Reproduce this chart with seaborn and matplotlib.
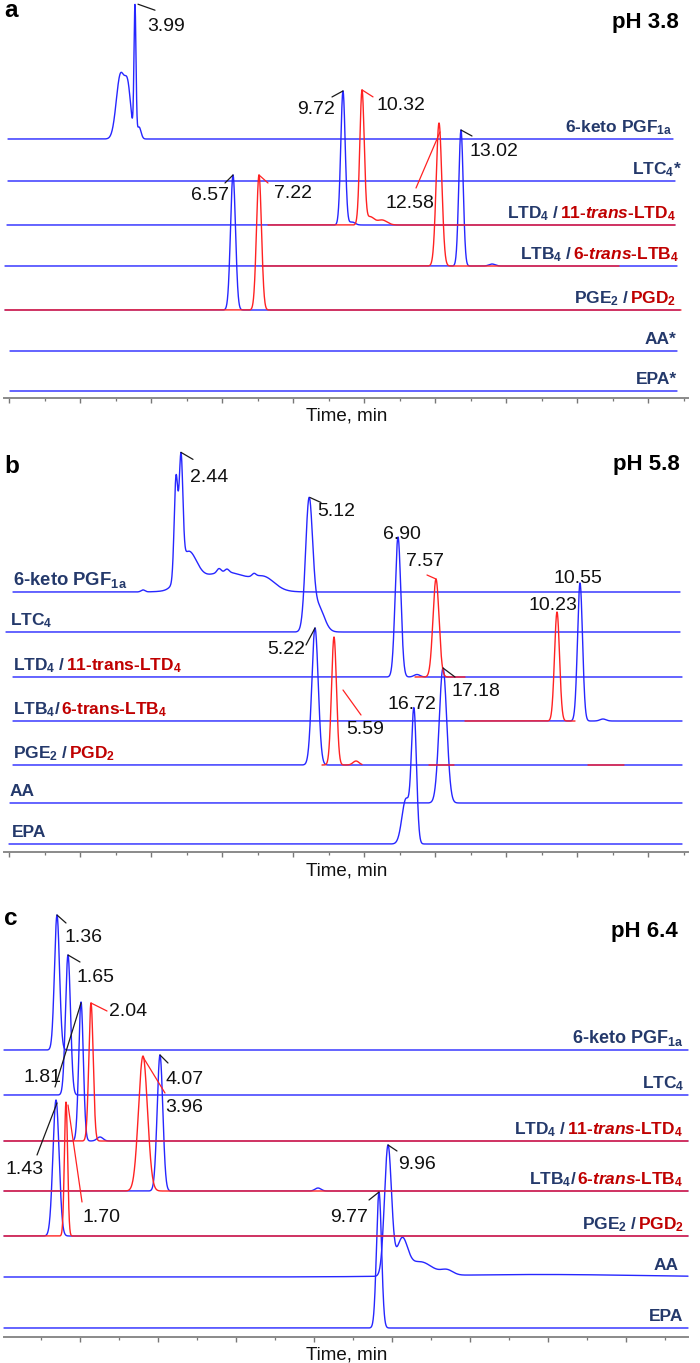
import numpy as np
import matplotlib
matplotlib.use("Agg")
import matplotlib.pyplot as plt
import matplotlib.transforms as mtransforms
import seaborn as sns

# ------------------------------------------------------------------ data
PANEL_LETTERS = ["a", "b", "c"]
PH_LABELS = ["pH 3.8", "pH 5.8", "pH 6.4"]
AXIS_TITLE = "Time, min"

# trace label texts (navy part, red part)
A_TRACE_LABELS = [["6-keto PGF$_{1a}$"], ["LTC$_4$*"],
                  ["LTD$_4$ / ", "11-$\\mathit{trans}$-LTD$_4$"],
                  ["LTB$_4$ / ", "6-$\\mathit{trans}$-LTB$_4$"],
                  ["PGE$_2$ / ", "PGD$_2$"], ["AA*"], ["EPA*"]]
B_TRACE_LABELS = [["6-keto PGF$_{1a}$"], ["LTC$_4$"],
                  ["LTD$_4$ / ", "11-trans-LTD$_4$"],
                  ["LTB$_4$/ ", "6-trans-LTB$_4$"],
                  ["PGE$_2$ / ", "PGD$_2$"], ["AA"], ["EPA"]]
C_TRACE_LABELS = [["6-keto PGF$_{1a}$"], ["LTC$_4$"],
                  ["LTD$_4$ / ", "11-$\\mathit{trans}$-LTD$_4$"],
                  ["LTB$_4$/", "6-$\\mathit{trans}$-LTB$_4$"],
                  ["PGE$_2$ / ", "PGD$_2$"], ["AA"], ["EPA"]]

# peaks: trace index, series (b = blue, r = red), apex time (display min),
# height (a.u.), width sigma (min), retention-time label
A_TRACE  = [0, 0, 0, 0, 2, 2, 2, 2, 2, 3, 3, 3, 4, 4]
A_SERIES = ["b", "b", "b", "b", "b", "b", "r", "r", "r", "r", "b", "b", "b", "r"]
A_TIME   = [3.141, 3.352, 3.549, 3.662, 9.408, 9.662, 9.944, 10.169, 10.507,
            12.113, 12.732, 13.606, 6.310, 7.042]
A_HEIGHT = [64, 45, 130, 12, 134, 3, 134, 8, 5, 143, 136, 2, 135, 135]
A_WIDTH  = [0.118, 0.085, 0.028, 0.056, 0.062, 0.085, 0.062, 0.113, 0.141,
            0.079, 0.062, 0.085, 0.070, 0.070]
A_LABEL  = ["", "", "3.99", "", "9.72", "", "10.32", "", "", "12.58", "13.02", "", "6.57", "7.22"]

B_TRACE  = [0, 0, 0, 0, 0, 0, 0, 0, 0, 1, 1, 2, 2, 2, 3, 3, 3, 4, 4, 4, 5, 6, 6]
B_SERIES = ["b", "b", "b", "b", "b", "b", "b", "b", "b", "b", "b", "b", "b", "r",
            "b", "b", "r", "b", "r", "r", "b", "b", "b"]
B_TIME   = [3.775, 4.704, 4.845, 5.042, 6.085, 7.211, 5.915, 6.141, 6.901, 8.451, 8.704,
            10.958, 11.493, 12.028, 16.085, 16.732, 15.437, 8.620, 9.155, 9.775, 12.225, 11.408, 11.183]
B_HEIGHT = [2, 99, 109, 34, 20, 10, 4, 3, 3, 126, 26, 140, 2.5, 98, 138, 2, 109, 137, 128, 4, 135, 130, 45]
B_WIDTH  = [0.056, 0.051, 0.051, 0.239, 0.704, 0.282, 0.056, 0.056, 0.056, 0.099, 0.169,
            0.079, 0.085, 0.085, 0.070, 0.085, 0.070, 0.090, 0.070, 0.085, 0.107, 0.070, 0.113]
B_LABEL  = ["", "", "2.44", "", "", "", "", "", "", "5.12", "", "6.90", "", "7.57",
            "10.55", "", "10.23", "5.22", "5.59", "", "17.18", "16.72", ""]

C_TRACE  = [0, 1, 2, 2, 2, 3, 3, 3, 4, 4, 5, 5, 5, 5, 5, 6]
C_SERIES = ["b", "b", "b", "b", "r", "b", "b", "r", "b", "r", "b", "b", "b", "b", "b", "b"]
C_TIME   = [1.410, 1.692, 2.026, 2.513, 2.282, 4.051, 8.103, 3.615, 1.385, 1.641,
            9.897, 10.256, 10.718, 11.410, 13.795, 9.667]
C_HEIGHT = [135, 140, 139, 4, 138, 136, 3, 135, 136, 134, 129.5, 34, 14, 5, 2.5, 136]
C_WIDTH  = [0.064, 0.064, 0.059, 0.077, 0.056, 0.072, 0.077, 0.115, 0.079, 0.041,
            0.090, 0.141, 0.308, 0.154, 2.564, 0.064]
C_LABEL  = ["1.36", "1.65", "1.81", "", "2.04", "4.07", "", "3.96", "1.43", "1.70",
            "9.96", "", "", "", "", "9.77"]

# ------------------------------------------------------------------ layout / style
W, H = 700, 1363
BLUE, RED = "#2626ff", "#ff2222"
NAVY, RED_TXT = "#24396b", "#c00000"

LAYOUT = [
    dict(top=0, bottom=398, x0=9.0, s=35.5, left=4, right=688,
         base=[139, 181, 225, 266, 310, 351, 391],
         blue_rng=[(8, 673), (8, 675), (7, 675), (5, 677), (5, 680), (10, 677), (10, 677)],
         red_rng={2: [(268, 675)], 3: [(262, 619)], 4: [(5, 681)]},
         lab_ha="right", lab_x=[672, 682, 676, 679, 676, 676, 677], keto_size=12.5,
         letter_y=17, ph_y=28, ph_x=679, time_y=420,
         ann={"3.99": (31, 22, (3, 0, 20, 6)), "9.72": (-27, 19, (0, 0, -11, 6)),
              "10.32": (39, 16, (0, 0, 11, 7)), "12.58": (-29, 80, (1, 9, -23, 65)),
              "13.02": (33, 21, (0, 0, 11, 6)), "6.57": (-23, 20, (0, 0, -8, 8)),
              "7.22": (34, 18, (0, 0, 9, 8))}),
    dict(top=430, bottom=852, x0=9.0, s=35.5, left=4, right=688,
         base=[592, 632, 677, 721, 765, 803, 844],
         blue_rng=[(13, 680), (6, 680), (13, 682), (13, 682), (13, 682), (10, 682), (9, 682)],
         red_rng={2: [(415, 465)], 3: [(465, 575)], 4: [(322, 362), (429, 454), (588, 624)]},
         lab_ha="left", lab_x=[13, 10, 13, 13, 13, 10, 12], keto_size=13.3,
         letter_y=473, ph_y=470, ph_x=680, time_y=876,
         ann={"2.44": (28, 25, (0, 0, 12, 7)), "5.12": (27, 14, (1, 0, 12, 5)),
              "5.22": (-29, 22, (0, 0, -9, 17)), "6.90": (4, -2, None),
              "7.57": (-11, -17, (0, 0, -9, -4)), "10.55": (-2, -4, None),
              "10.23": (-4, -7, None), "16.72": (-2, -3, None),
              "17.18": (33, 24, (0, 0, 12, 9)), "5.59": (31, 93, (9, 53, 27, 78))}),
    dict(top=890, bottom=1337, x0=2.0, s=39.0, left=4, right=688,
         base=[1050, 1095, 1141, 1191, 1236, 1277, 1328],
         blue_rng=[(4, 688)] * 7,
         red_rng={2: [(4, 688)], 3: [(4, 688)], 4: [(4, 688)]},
         lab_ha="right", lab_x=[683, 685, 683, 683, 684, 679, 683], keto_size=13.0,
         letter_y=925, ph_y=937, ph_x=678, time_y=1360,
         ann={"1.36": (27, 23, (0, 0, 9, 8)), "1.65": (28, 22, (0, 0, 12, 7)),
              "1.81": (-39, 76, (0, 1, -26, 85)), "2.04": (37, 9, (0, 0, 16, 8)),
              "4.07": (25, 25, (0, 0, 8, 8)), "3.96": (41, 51, (0, 1, 22, 37)),
              "1.43": (-31, 70, (1, 3, -19, 55)), "1.70": (36, 115, (2, 3, 16, 100)),
              "9.96": (29, 20, (0, 0, 9, 6)), "9.77": (-30, 25, (0, 0, -10, 8))}),
]

PEAKS = [
    (A_TRACE, A_SERIES, A_TIME, A_HEIGHT, A_WIDTH, A_LABEL),
    (B_TRACE, B_SERIES, B_TIME, B_HEIGHT, B_WIDTH, B_LABEL),
    (C_TRACE, C_SERIES, C_TIME, C_HEIGHT, C_WIDTH, C_LABEL),
]
TRACE_LABELS = [A_TRACE_LABELS, B_TRACE_LABELS, C_TRACE_LABELS]

sns.set_theme(style="white")
plt.rcParams["font.family"] = ["Liberation Sans", "DejaVu Sans"]
plt.rcParams["mathtext.fontset"] = "custom"
plt.rcParams["mathtext.rm"] = "Liberation Sans:bold"
plt.rcParams["mathtext.bf"] = "Liberation Sans:bold"
plt.rcParams["mathtext.it"] = "Liberation Sans:italic:bold"
plt.rcParams["mathtext.default"] = "rm"

fig = plt.figure(figsize=(W / 100, H / 100), dpi=100)
renderer = fig.canvas.get_renderer()


def signal(t, trace, series, pk):
    tr, se, tm, hh, ww, _ = pk
    y = np.zeros_like(t)
    for i in range(len(tm)):
        if tr[i] == trace and se[i] == series:
            y += hh[i] * np.exp(-0.5 * ((t - tm[i]) / ww[i]) ** 2)
    return y


def multi_text(ax, x, y, parts, ha, size):
    cols = [NAVY, RED_TXT][:len(parts)]
    order = list(zip(parts, cols))
    if ha == "right":
        order = order[::-1]
    shift = 0.0
    for txt, col in order:
        off = -shift if ha == "right" else shift
        tr = mtransforms.offset_copy(ax.transData, fig=fig, x=off, y=0, units="dots")
        t = ax.text(x, y, txt, color=col, ha=ha, va="baseline", fontsize=size,
                    fontweight="bold", transform=tr, zorder=6)
        shift += t.get_window_extent(renderer=renderer).width


for p, L in enumerate(LAYOUT):
    pk = PEAKS[p]
    s, x0 = L["s"], L["x0"]
    hgt = L["bottom"] - L["top"]
    ax = fig.add_axes([L["left"] / W, 1 - L["bottom"] / H,
                       (L["right"] - L["left"]) / W, hgt / H])
    xlo, xhi = (L["left"] - x0) / s, (L["right"] - x0) / s

    # axis styling (ticks first, then limits so they are not widened)
    for sp in ["top", "left", "right"]:
        ax.spines[sp].set_visible(False)
    ax.spines["bottom"].set_color("#8a8a8a")
    ax.spines["bottom"].set_linewidth(1.4)
    major = np.arange(0, 20, 2)
    minor = np.arange(1, 20, 2)
    ax.set_xticks(major[(major >= xlo) & (major <= xhi)])
    ax.set_xticks(minor[(minor >= xlo) & (minor <= xhi)], minor=True)
    ax.set_yticks([])
    ax.tick_params(axis="x", which="major", direction="out", length=3.5, width=1.0,
                   color="#777777", labelbottom=False, bottom=True)
    ax.tick_params(axis="x", which="minor", direction="out", length=2.2, width=0.9,
                   color="#777777", bottom=True)
    ax.set_xlim(xlo, xhi)
    ax.set_ylim(0, hgt)
    ax.patch.set_alpha(0)

    def to_t(px):
        return (px - x0) / s

    for i in range(7):
        b = L["bottom"] - L["base"][i]
        a0, a1 = L["blue_rng"][i]
        t = np.linspace(to_t(a0), to_t(a1), 5000)
        sns.lineplot(x=t, y=b + signal(t, i, "b", pk), ax=ax, color=BLUE, linewidth=1.0,
                     estimator=None, sort=False, legend=False, zorder=2, clip_on=False)
        for (r0, r1) in L["red_rng"].get(i, []):
            t = np.linspace(to_t(r0), to_t(r1), 4000)
            sns.lineplot(x=t, y=b + signal(t, i, "r", pk), ax=ax, color=RED, linewidth=1.0,
                         estimator=None, sort=False, legend=False, zorder=3, clip_on=False)
        size = L["keto_size"] if i == 0 else 12.5
        multi_text(ax, to_t(L["lab_x"][i]), b + 7, TRACE_LABELS[p][i], L["lab_ha"], size)

    # peak annotations
    tr_, se_, tm_, hh_, ww_, lb_ = pk
    for k, lab in enumerate(lb_):
        if not lab:
            continue
        tc = tm_[k]
        b = L["bottom"] - L["base"][tr_[k]]
        yc = b + signal(np.array([tc]), tr_[k], se_[k], pk)[0]
        dx, dy, lead = L["ann"][lab]
        if lead is not None:
            lx0, ly0, lx1, ly1 = lead
            ax.plot([tc + lx0 / s, tc + lx1 / s], [yc - ly0, yc - ly1],
                    color=("#1a1a1a" if se_[k] == "b" else RED), lw=0.9, zorder=4,
                    clip_on=False)
        trf = mtransforms.offset_copy(ax.transData, fig=fig, x=dx, y=-dy, units="dots")
        ax.text(tc, yc, lab, ha="center", va="center", fontsize=14, color="#111111",
                transform=trf, zorder=5)

    ax.set_xlim(xlo, xhi)
    ax.set_ylim(0, hgt)
    ax.set_xlabel("")
    ax.set_ylabel("")

    fig.text(4 / W, 1 - L["letter_y"] / H, PANEL_LETTERS[p], fontsize=17.5,
             fontweight="bold", ha="left", va="baseline", color="black")
    fig.text(L["ph_x"] / W, 1 - L["ph_y"] / H, PH_LABELS[p], fontsize=16,
             fontweight="bold", ha="right", va="baseline", color="black")
    fig.text(347 / W, 1 - L["time_y"] / H, AXIS_TITLE, fontsize=13.5,
             ha="center", va="baseline", color="#111111")

fig.savefig("out.png", dpi=100)
